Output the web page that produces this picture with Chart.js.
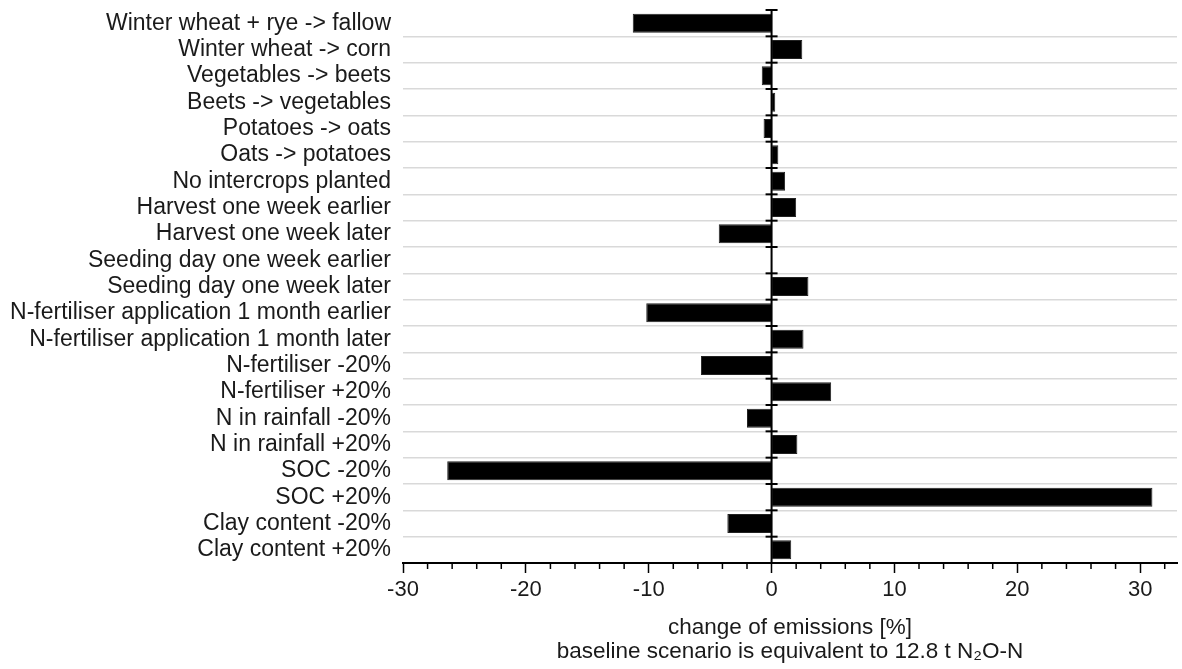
<!DOCTYPE html>
<html>
<head>
<meta charset="utf-8">
<script src="https://cdn.jsdelivr.net/npm/chart.js@4.4.1/dist/chart.umd.min.js"></script>
<style>
  html, body { margin: 0; padding: 0; background: #fff; }
  #wrap { width: 1182px; height: 669px; position: relative; }
</style>
</head>
<body>
<div id="wrap"><canvas id="c"></canvas></div>
<script>
const categories = [
  "Winter wheat + rye -> fallow",
  "Winter wheat -> corn",
  "Vegetables -> beets",
  "Beets -> vegetables",
  "Potatoes -> oats",
  "Oats -> potatoes",
  "No intercrops planted",
  "Harvest one week earlier",
  "Harvest one week later",
  "Seeding day one week earlier",
  "Seeding day one week later",
  "N-fertiliser application 1 month earlier",
  "N-fertiliser application 1 month later",
  "N-fertiliser -20%",
  "N-fertiliser +20%",
  "N in rainfall -20%",
  "N in rainfall +20%",
  "SOC -20%",
  "SOC +20%",
  "Clay content -20%",
  "Clay content +20%"
];
const changeOfEmissions = [
  -11.3, 2.5, -0.8, 0.3, -0.65, 0.55, 1.1, 2.0, -4.3, 0.0, 3.0,
  -10.2, 2.6, -5.75, 4.85, -2.0, 2.1, -26.4, 31.0, -3.6, 1.6
];
const xMin = -30, xMax = 33, majorStep = 10, minorStep = 2;
const axisTitle = ["change of emissions [%]", "baseline scenario is equivalent to 12.8 t N\u2082O-N"];

const FONT = "'Liberation Sans', Arial, Helvetica, sans-serif";
const TEXT = "#1a1a1a";

const decorPlugin = {
  id: 'decor',
  afterDatasetsDraw(chart) {
    const ctx = chart.ctx;
    const xs = chart.scales.x, ys = chart.scales.y;
    const area = chart.chartArea;
    const x0 = xs.getPixelForValue(0);
    ctx.save();
    ctx.strokeStyle = '#000';
    ctx.lineWidth = 2;
    ctx.beginPath();
    ctx.moveTo(x0, area.top);
    ctx.lineTo(x0, area.bottom);
    ctx.stroke();
    const n = categories.length;
    const half = (ys.getPixelForValue(1) - ys.getPixelForValue(0)) / 2;
    for (let i = 0; i < n; i++) {
      const yb = ys.getPixelForValue(i) - half;
      ctx.beginPath();
      ctx.moveTo(x0 - 6, yb);
      ctx.lineTo(x0 + 6, yb);
      ctx.stroke();
    }
    ctx.lineWidth = 1.5;
    for (let v = xMin; v <= xMax; v += minorStep) {
      if (v % majorStep === 0) continue;
      const px = xs.getPixelForValue(v);
      ctx.beginPath();
      ctx.moveTo(px, area.bottom);
      ctx.lineTo(px, area.bottom + 6);
      ctx.stroke();
    }
    ctx.restore();
  }
};

new Chart(document.getElementById('c'), {
  type: 'bar',
  data: {
    labels: categories,
    datasets: [{
      data: changeOfEmissions,
      backgroundColor: '#000',
      borderColor: '#222',
      borderWidth: 1,
      barPercentage: 0.72,
      categoryPercentage: 1.0
    }]
  },
  options: {
    indexAxis: 'y',
    responsive: true,
    maintainAspectRatio: false,
    animation: false,
    layout: { padding: { top: 10, right: 5, left: 0, bottom: 0 } },
    plugins: { legend: { display: false }, tooltip: { enabled: false } },
    scales: {
      x: {
        type: 'linear',
        min: xMin,
        max: xMax,
        afterFit(s) { s.height = 106; s.paddingLeft = 0; s.paddingRight = 0; },
        ticks: {
          stepSize: majorStep,
          includeBounds: false,
          color: TEXT,
          padding: 4,
          font: { family: FONT, size: 22 }
        },
        grid: {
          drawOnChartArea: false,
          drawTicks: true,
          tickLength: 10,
          tickColor: '#000',
          tickWidth: 1.5
        },
        border: { display: true, color: '#000', width: 2 },
        title: {
          display: true,
          text: axisTitle,
          color: TEXT,
          font: { family: FONT, size: 22.5, lineHeight: 1.07 },
          padding: { top: 0, bottom: 5 }
        }
      },
      y: {
        type: 'category',
        afterFit(s) { s.width = 403; s.paddingTop = 0; s.paddingBottom = 0; },
        ticks: {
          color: TEXT,
          padding: 12,
          autoSkip: false,
          font: { family: FONT, size: 23 }
        },
        grid: {
          offset: true,
          drawTicks: false,
          color: (c) => c.index === 0 ? 'rgba(0,0,0,0)' : '#d9d9d9',
          lineWidth: 1.5
        },
        border: { display: false }
      }
    }
  },
  plugins: [decorPlugin]
});
</script>
</body>
</html>
